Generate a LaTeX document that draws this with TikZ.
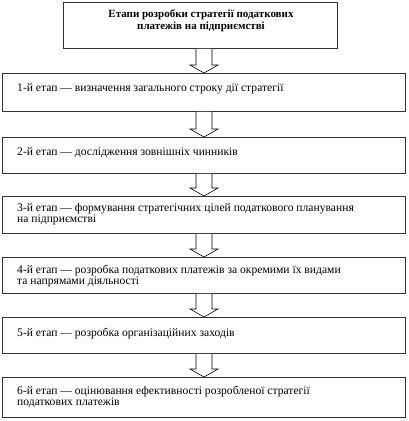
\documentclass[tikz,border=0pt]{standalone}
\usepackage{fontspec}
\setmainfont{Liberation Serif}
\usetikzlibrary{calc}
\begin{document}
\begin{tikzpicture}[x=1pt,y=-1pt,
  boxst/.style={draw=black!80, line width=0.9pt, fill=white, inner sep=0pt, anchor=north west},
  txt/.style={anchor=west, inner sep=0pt, align=left, font=\fontsize{11.6}{11.5}\selectfont},
  ttl/.style={inner sep=0pt, align=center, font=\bfseries\fontsize{11}{12}\selectfont},
  barrow/.style={draw=black, line width=0.6pt, fill=white}]
\useasboundingbox (0,0) rectangle (409,421);
% boxes
\node[boxst, minimum width=274pt, minimum height=46pt] (top) at (63,2) {};
\node[boxst, minimum width=403pt, minimum height=38pt] (b1) at (2,73) {};
\node[boxst, minimum width=403pt, minimum height=36pt] (b2) at (2,137) {};
\node[boxst, minimum width=403pt, minimum height=37pt] (b3) at (2,196) {};
\node[boxst, minimum width=403pt, minimum height=36pt] (b4) at (2,257) {};
\node[boxst, minimum width=403pt, minimum height=36pt] (b5) at (2,317) {};
\node[boxst, minimum width=403pt, minimum height=40pt] (b6) at (2,377) {};
% texts
\node[ttl] (tt) at (201,21) {Етапи розробки стратегії податкових\\платежів на підприємстві};
\node[txt] (t1) at (17,89) {1-й етап — визначення загального строку дії стратегії};
\node[txt] (t2) at (17,153) {2-й етап — дослідження зовнішніх чинників};
\node[txt] (t3) at (17,214) {3-й етап — формування стратегічних цілей податкового планування\\на підприємстві};
\node[txt] (t4) at (17,276) {4-й етап — розробка податкових платежів за окремими їх видами\\та напрямами діяльності};
\node[txt] (t5) at (17,334) {5-й етап — розробка організаційних заходів};
\node[txt] (t6) at (17,397) {6-й етап — оцінювання ефективності розробленої стратегії\\податкових платежів};
% arrows
\coordinate (ax) at (204,0);
\foreach \a/\b in {top/b1, b1/b2, b2/b3, b3/b4, b4/b5, b5/b6}{
  \path let \p1=(\a.south), \p2=(\b.north), \p3=(ax) in
    [barrow] (\x3-8pt,\y1) -- (\x3-8pt,\y2+8pt) -- (\x3-14pt,\y2+8pt) -- (\x3,\y2)
    -- (\x3+14pt,\y2+8pt) -- (\x3+8pt,\y2+8pt) -- (\x3+8pt,\y1);
}
\end{tikzpicture}
\end{document}
